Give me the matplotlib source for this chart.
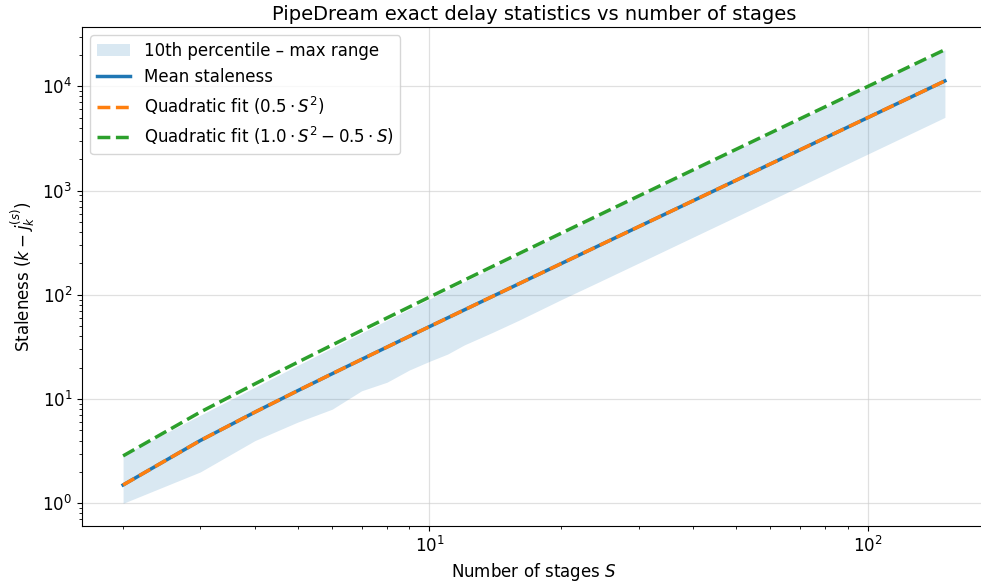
import matplotlib
matplotlib.use("Agg")
import matplotlib.pyplot as plt

stages = [2, 3, 4, 5, 6, 7, 8, 9, 10, 11, 12, 14, 16, 20, 24, 32, 40, 48, 64, 80, 96, 128, 150]
p10 = [1, 2, 4, 6, 8, 12, 14.5, 19, 23, 27, 33, 44, 57, 90, 129, 229, 358, 515, 916, 1431, 2061, 3663, 5030]
max_stale = [2.9, 7, 13, 21, 31, 43, 57, 73, 91, 111, 133, 183, 241, 381, 553, 993, 1561, 2257, 4033, 6321, 9121, 16257, 22351]
mean_stale = [1.5, 4, 7.5, 12, 17.5, 24, 31.5, 40, 49.5, 60, 71.5, 97.5, 127.5, 199.5, 287.5, 511.5,
              799.5, 1151.5, 2047.5, 3199.5, 4607.5, 8191.5, 11249.5]
fit_half = [1.5, 4, 7.5, 12, 17.5, 24, 31.5, 40, 49.5, 60, 71.5, 97.5, 127.5, 199.5, 287.5, 511.5,
            799.5, 1151.5, 2047.5, 3199.5, 4607.5, 8191.5, 11249.5]
fit_full = [2.85, 7.5, 14, 22.5, 33, 45.5, 60, 76.5, 95, 115.5, 138, 189, 248, 390, 564, 1008,
            1580, 2280, 4064, 6360, 9168, 16320, 22425]

W, H = 981, 586
fig = plt.figure(figsize=(W / 100, H / 100), dpi=100)
ax = fig.add_axes([82 / W, (H - 526) / H, 904 / W, (526 - 27) / H])

ax.fill_between(stages, p10, max_stale, color="C0", alpha=0.17, linewidth=0,
                label="10th percentile – max range")
ax.plot(stages, mean_stale, color="C0", lw=2.5, label="Mean staleness")
ax.plot(stages, fit_half, color="C1", lw=2.5, ls="--", label=r"Quadratic fit $(0.5 \cdot S^2)$")
ax.plot(stages, fit_full, color="C2", lw=2.5, ls="--", label=r"Quadratic fit $(1.0 \cdot S^2 - 0.5 \cdot S)$")

ax.set_xscale("log")
ax.set_yscale("log")
ax.grid(True, which="major", color="#cccccc", alpha=0.6, lw=0.9)
ax.set_axisbelow(True)

ax.set_title("PipeDream exact delay statistics vs number of stages", fontsize=14, pad=5)
ax.set_xlabel(r"Number of stages $S$", fontsize=12)
ax.set_ylabel(r"Staleness $(k - j_k^{(s)})$", fontsize=12)
ax.tick_params(labelsize=12)
ax.legend(loc="upper left", fontsize=12)

fig.savefig("out.png", dpi=100)
